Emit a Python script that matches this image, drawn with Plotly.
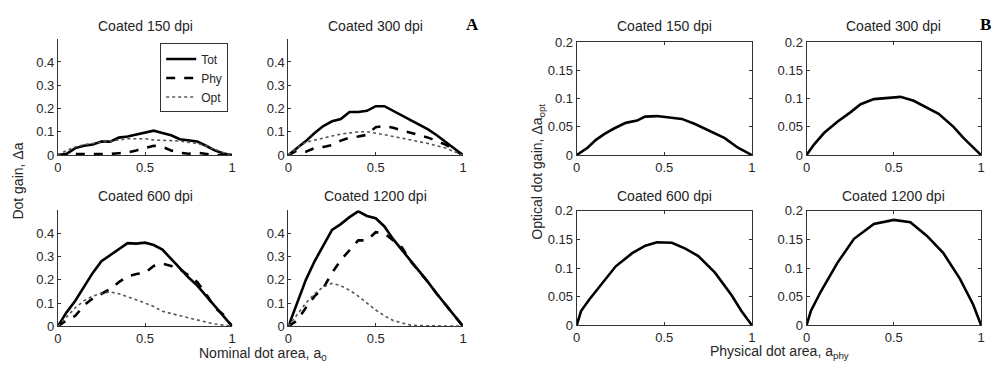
import plotly.graph_objects as go

# ---------------- Panel A: dot gain vs nominal dot area ----------------
a0 = [0.0, 0.05, 0.1, 0.15, 0.2, 0.25, 0.3, 0.35, 0.4, 0.45, 0.5,
      0.55, 0.6, 0.65, 0.7, 0.75, 0.8, 0.85, 0.9, 0.95, 1.0]

tot_150 = [0, 0.005, 0.03, 0.04, 0.045, 0.058, 0.058, 0.075, 0.08, 0.088, 0.097,
           0.105, 0.095, 0.085, 0.068, 0.062, 0.058, 0.04, 0.02, 0.007, 0]
phy_150 = [0, 0.0, 0.004, 0.004, 0.004, 0.004, 0.005, 0.008, 0.011, 0.02, 0.03,
           0.04, 0.035, 0.02, 0.01, 0.006, 0.01, 0.004, 0.0, 0.0, 0]
opt_150 = [0, 0.02, 0.035, 0.045, 0.05, 0.055, 0.058, 0.065, 0.07, 0.07, 0.07,
           0.065, 0.062, 0.062, 0.06, 0.055, 0.05, 0.04, 0.025, 0.01, 0]

tot_300 = [0, 0.03, 0.06, 0.095, 0.125, 0.145, 0.155, 0.185, 0.185, 0.19, 0.21,
           0.21, 0.19, 0.17, 0.15, 0.13, 0.11, 0.085, 0.055, 0.028, 0]
phy_300 = [0, 0.02, 0.015, 0.03, 0.035, 0.043, 0.062, 0.075, 0.08, 0.087, 0.12,
           0.125, 0.117, 0.107, 0.097, 0.086, 0.075, 0.06, 0.045, 0.022, 0]
opt_300 = [0, 0.03, 0.055, 0.065, 0.075, 0.082, 0.09, 0.095, 0.1, 0.1, 0.095,
           0.088, 0.08, 0.073, 0.065, 0.058, 0.05, 0.04, 0.03, 0.015, 0]

tot_600 = [0, 0.06, 0.11, 0.17, 0.23, 0.28, 0.305, 0.33, 0.358, 0.356, 0.36,
           0.35, 0.33, 0.29, 0.25, 0.21, 0.175, 0.13, 0.086, 0.043, 0]
phy_600 = [0, 0.025, 0.045, 0.09, 0.12, 0.14, 0.16, 0.19, 0.215, 0.225, 0.23,
           0.26, 0.27, 0.26, 0.245, 0.22, 0.19, 0.14, 0.08, 0.05, 0]
opt_600 = [0, 0.04, 0.08, 0.11, 0.13, 0.142, 0.148, 0.14, 0.127, 0.115, 0.1,
           0.085, 0.065, 0.055, 0.045, 0.035, 0.025, 0.018, 0.01, 0.005, 0]

tot_1200 = [0, 0.1, 0.2, 0.28, 0.35, 0.415, 0.44, 0.47, 0.495, 0.475, 0.465,
            0.43, 0.375, 0.33, 0.28, 0.235, 0.19, 0.14, 0.094, 0.047, 0]
phy_1200 = [0, 0.025, 0.08, 0.13, 0.165, 0.23, 0.285, 0.33, 0.37, 0.37, 0.405,
            0.4, 0.37, 0.34, 0.28, 0.235, 0.19, 0.14, 0.094, 0.047, 0]
opt_1200 = [0, 0.05, 0.1, 0.14, 0.17, 0.185, 0.175, 0.155, 0.13, 0.1, 0.07,
            0.045, 0.025, 0.015, 0.005, 0.003, 0.002, 0.001, 0.001, 0.0, 0]

# ---------------- Panel B: optical dot gain vs physical dot area ----------------
aphy_150 = [0, 0.062, 0.11, 0.157, 0.213, 0.28, 0.345, 0.39, 0.457, 0.525,
            0.6, 0.675, 0.75, 0.845, 0.92, 1.0]
dopt_150 = [0, 0.013, 0.027, 0.037, 0.047, 0.057, 0.061, 0.068, 0.069, 0.066,
            0.064, 0.055, 0.044, 0.03, 0.013, 0]

aphy_300 = [0, 0.044, 0.1, 0.177, 0.253, 0.31, 0.386, 0.443, 0.538, 0.614,
            0.69, 0.757, 0.842, 0.9, 1.0]
dopt_300 = [0, 0.019, 0.039, 0.059, 0.076, 0.09, 0.099, 0.101, 0.103, 0.096,
            0.084, 0.073, 0.05, 0.03, 0]

aphy_600 = [0, 0.025, 0.072, 0.128, 0.223, 0.317, 0.392, 0.458, 0.543, 0.62,
            0.694, 0.789, 0.883, 0.94, 1.0]
dopt_600 = [0, 0.025, 0.045, 0.067, 0.103, 0.126, 0.139, 0.145, 0.144, 0.134,
            0.121, 0.092, 0.053, 0.025, 0]

aphy_1200 = [0, 0.025, 0.082, 0.177, 0.272, 0.386, 0.5, 0.595, 0.69, 0.784,
             0.879, 0.955, 1.0]
dopt_1200 = [0, 0.025, 0.059, 0.109, 0.151, 0.177, 0.184, 0.18, 0.156, 0.126,
             0.081, 0.036, 0]

titles = ["Coated 150 dpi", "Coated 300 dpi", "Coated 600 dpi", "Coated 1200 dpi"]

W, H = 997, 372
TXT = "#262626"
FONT = "Liberation Sans, Arial, sans-serif"


def px_x(x0, x1):
    return [x0 / W, x1 / W]


def px_y(top, bottom):
    return [1 - bottom / H, 1 - top / H]


# axis boxes in pixels: (left, right, top, bottom)
boxes = [
    (54.3, 230.0, 33.0, 154.3),   # A 150
    (286.7, 462.7, 33.0, 154.3),  # A 300
    (54.3, 230.0, 211.7, 332.7),  # A 600
    (286.7, 462.7, 211.7, 332.7), # A 1200
    (577.3, 754.0, 36.5, 154.3),  # B 150
    (809.0, 985.0, 36.5, 154.3),  # B 300
    (577.3, 754.0, 212.3, 331.7), # B 600
    (809.0, 985.0, 212.3, 331.7), # B 1200
]

fig = go.Figure()

panel_a = [(tot_150, phy_150, opt_150), (tot_300, phy_300, opt_300),
           (tot_600, phy_600, opt_600), (tot_1200, phy_1200, opt_1200)]
panel_b = [(aphy_150, dopt_150), (aphy_300, dopt_300),
           (aphy_600, dopt_600), (aphy_1200, dopt_1200)]

styles = [
    ("Tot", dict(color="black", width=2.6, dash="solid")),
    ("Phy", dict(color="black", width=2.6, dash="dash")),
    ("Opt", dict(color="#555555", width=1.6, dash="dot")),
]

for i, series in enumerate(panel_a):
    n = i + 1
    for (name, line), ys in zip(styles, series):
        fig.add_trace(go.Scatter(
            x=a0, y=ys, mode="lines", name=name, line=line,
            showlegend=(i == 0),
            xaxis=f"x{n if n > 1 else ''}", yaxis=f"y{n if n > 1 else ''}"))

for i, (xs, ys) in enumerate(panel_b):
    n = i + 5
    fig.add_trace(go.Scatter(
        x=xs, y=ys, mode="lines", line=dict(color="black", width=2.6),
        showlegend=False, xaxis=f"x{n}", yaxis=f"y{n}"))

layout = dict(
    width=W, height=H,
    margin=dict(l=0, r=0, t=0, b=0),
    paper_bgcolor="white", plot_bgcolor="white",
    font=dict(family=FONT, size=13, color=TXT),
    legend=dict(x=226 / W, y=1 - 38 / H, xanchor="right", yanchor="top",
                bgcolor="white", bordercolor="#333333", borderwidth=1,
                font=dict(size=12, color=TXT), tracegroupgap=0,
                itemwidth=30),
    showlegend=True,
)

for k, (l, r, t, b) in enumerate(boxes):
    n = k + 1
    sfx = "" if n == 1 else str(n)
    is_b = k >= 4
    common = dict(showgrid=False, zeroline=False, showline=True,
                  linecolor="#333333", linewidth=1, ticks="inside", ticklen=3,
                  tickcolor="#333333", tickfont=dict(size=13, color=TXT),
                  mirror="ticks" if is_b else False, fixedrange=True)
    layout[f"xaxis{sfx}"] = dict(
        domain=px_x(l, r), anchor=f"y{sfx}", range=[0, 1],
        tickvals=[0, 0.5, 1], ticktext=["0", "0.5", "1"], **common)
    if is_b:
        yt = [0, 0.05, 0.1, 0.15, 0.2]
        ytt = ["0", "0.05", "0.1", "0.15", "0.2"]
        yr = [0, 0.2]
    else:
        yt = [0, 0.1, 0.2, 0.3, 0.4]
        ytt = ["0", "0.1", "0.2", "0.3", "0.4"]
        yr = [0, 0.5]
    layout[f"yaxis{sfx}"] = dict(
        domain=px_y(t, b), anchor=f"x{sfx}", range=yr,
        tickvals=yt, ticktext=ytt, **common)

fig.update_layout(**layout)

ann = []
for k, (l, r, t, b) in enumerate(boxes):
    ty = 20 if t < 100 else 197
    ann.append(dict(text=titles[k % 4], x=(l + r) / 2 / W, y=1 - ty / H,
                    xref="paper", yref="paper", xanchor="center",
                    yanchor="middle", showarrow=False,
                    font=dict(size=14, color=TXT)))

ann += [
    dict(text="Dot gain, \u0394a", x=14 / W, y=1 - 181 / H, textangle=-90),
    dict(text="Nominal dot area, a<sub>0</sub>", x=261 / W, y=1 - 362 / H),
    dict(text="Optical dot gain, \u0394a<sub>opt</sub>", x=538 / W,
         y=1 - 172 / H, textangle=-90),
    dict(text="Physical dot area, a<sub>phy</sub>", x=782 / W, y=1 - 360 / H),
]
for a in ann[-4:]:
    a.update(xref="paper", yref="paper", xanchor="center", yanchor="middle",
             showarrow=False, font=dict(size=14, color=TXT), borderpad=0)

ann += [
    dict(text="<b>A</b>", x=472 / W, y=1 - 18 / H),
    dict(text="<b>B</b>", x=989 / W, y=1 - 18 / H),
]
for a in ann[-2:]:
    a.update(xref="paper", yref="paper", xanchor="center", yanchor="middle",
             showarrow=False,
             font=dict(size=17, color="black",
                       family="Liberation Serif, Times New Roman, serif"))

fig.update_layout(annotations=ann)

fig.write_html("out.html")
